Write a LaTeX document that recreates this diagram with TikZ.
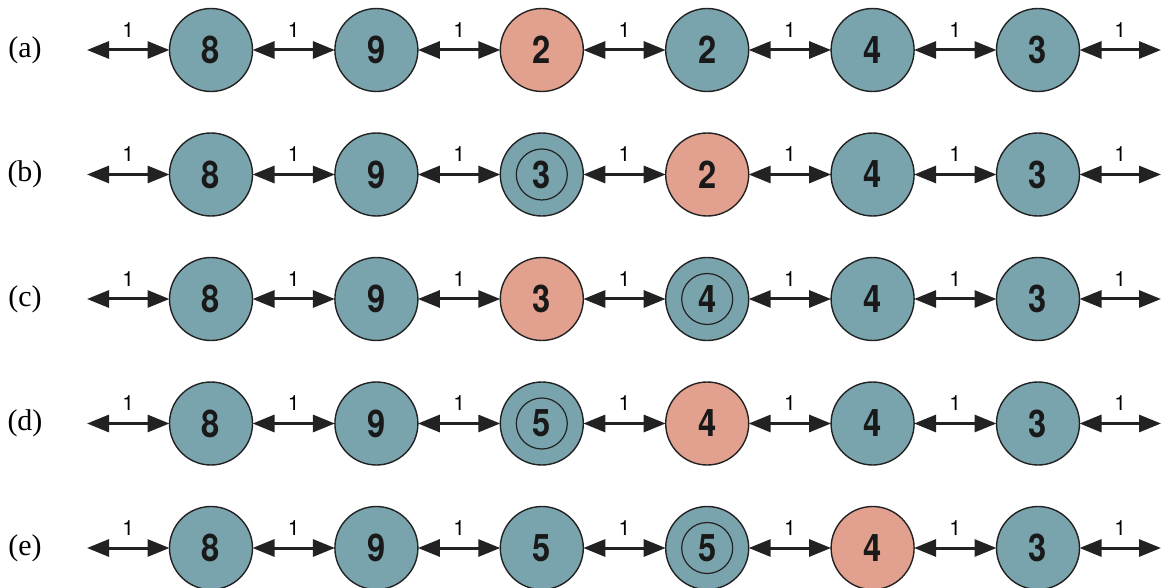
\documentclass[tikz,border=0pt]{standalone}
\usepackage{fontspec}
\setmainfont{Liberation Serif}
\setsansfont{TeX Gyre Heros}
\usetikzlibrary{arrows.meta}
\definecolor{nodeteal}{HTML}{7AA4AD}
\definecolor{nodesalmon}{HTML}{E2A08F}
\definecolor{inkline}{HTML}{222222}
\newcommand\dg[1]{\scalebox{0.86}[1]{#1}}
\newcommand\drawrow[4]{%
  \node[rowlabel] (#1lab) at (25,#2) {#3};
  \coordinate (#1L) at (87,#2);
  \coordinate (#1R) at (1161,#2);
  \foreach \c/\v/\s in {#4} {\node[cnode,\s] (#1\c) at ({211+165.4*(\c-1)},#2) {\dg{\v}};}
  \draw[link] (#1L) -- (#11) node[wlabel]{1};
  \draw[link] (#11) -- (#12) node[wlabel]{1};
  \draw[link] (#12) -- (#13) node[wlabel]{1};
  \draw[link] (#13) -- (#14) node[wlabel]{1};
  \draw[link] (#14) -- (#15) node[wlabel]{1};
  \draw[link] (#15) -- (#16) node[wlabel]{1};
  \draw[link] (#16) -- (#1R) node[wlabel]{1};
}
\begin{document}
\begin{tikzpicture}[x=1pt,y=-1pt,
  cnode/.style={circle,draw=inkline,line width=1.4pt,fill=nodeteal,minimum size=83pt,inner sep=0pt,outer sep=0pt,
    font=\sffamily\bfseries\fontsize{38}{38}\selectfont,text=black!90},
  hot/.style={fill=nodesalmon},
  ringed/.style={path picture={\draw[line width=1.2pt,inkline] (path picture bounding box.center) circle[radius=25.5pt];}},
  plain/.style={},
  link/.style={line width=3pt,draw=inkline,{Triangle[length=22pt,width=17pt]}-{Triangle[length=22pt,width=17pt]}},
  wlabel/.style={midway,yshift=20pt,inner sep=0pt,font=\sffamily\fontsize{21}{21}\selectfont},
  rowlabel/.style={inner sep=0pt,font=\fontsize{30}{30}\selectfont}
]
\useasboundingbox (0,0) rectangle (1163,588);
\drawrow{a}{50}{(a)}{1/8/plain,2/9/plain,3/2/hot,4/2/plain,5/4/plain,6/3/plain}
\drawrow{b}{174.5}{(b)}{1/8/plain,2/9/plain,3/3/ringed,4/2/hot,5/4/plain,6/3/plain}
\drawrow{c}{299}{(c)}{1/8/plain,2/9/plain,3/3/hot,4/4/ringed,5/4/plain,6/3/plain}
\drawrow{d}{423.5}{(d)}{1/8/plain,2/9/plain,3/5/ringed,4/4/hot,5/4/plain,6/3/plain}
\drawrow{e}{548}{(e)}{1/8/plain,2/9/plain,3/5/plain,4/5/ringed,5/4/hot,6/3/plain}
\end{tikzpicture}
\end{document}
